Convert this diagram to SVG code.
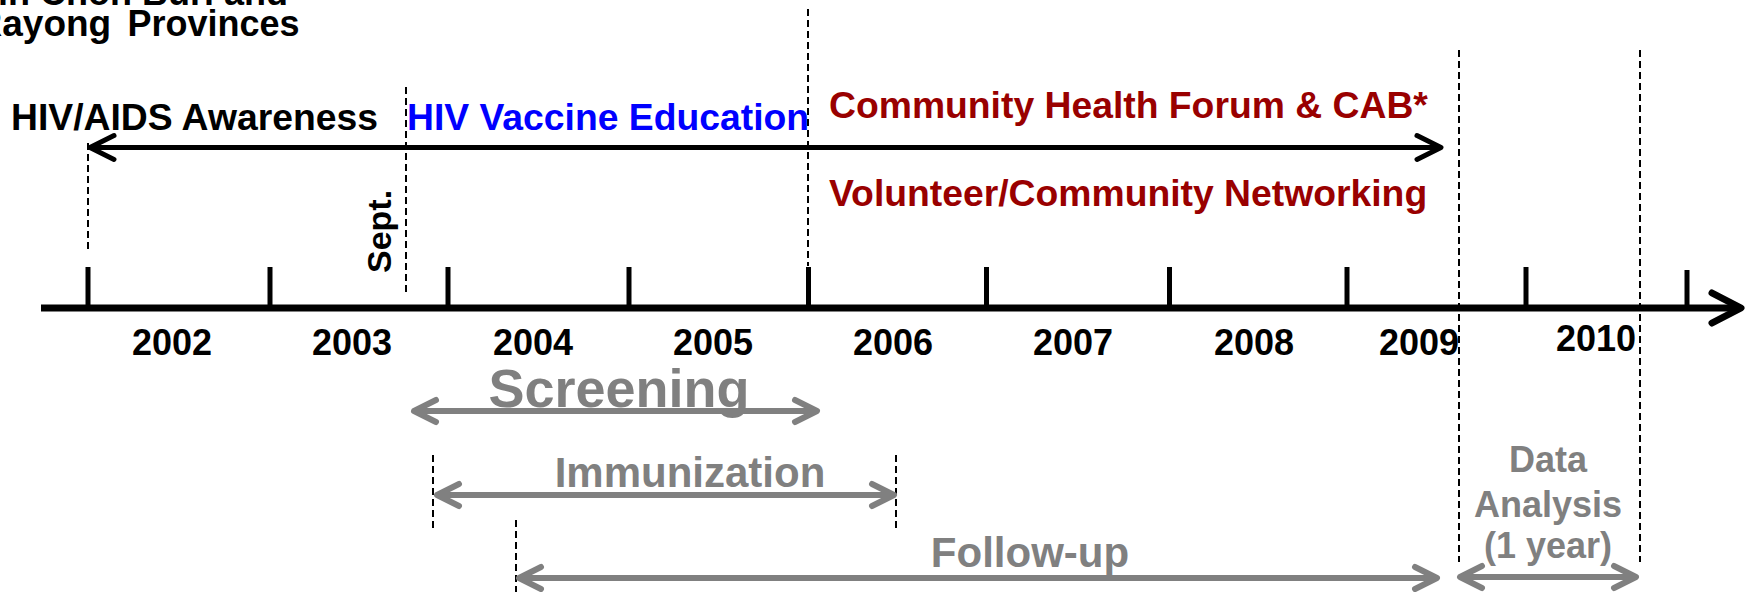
<svg xmlns="http://www.w3.org/2000/svg" width="1745" height="592" viewBox="0 0 1745 592">
<style>
text{font-family:"Liberation Sans",Arial,sans-serif;font-weight:bold}
.blk{fill:#000}
.red{fill:#990000}
.blue{fill:#0000ff}
.gry{fill:#808080}
.lbl{font-size:37.3px}
.yr{font-size:36px;text-anchor:middle}
.dash{stroke:#000;stroke-width:2;stroke-dasharray:7 4;fill:none}
.tick{stroke:#000;stroke-width:5}
.garrow{stroke:#808080;stroke-width:6;fill:none;marker-start:url(#mg);marker-end:url(#mg)}
</style>
<defs>
<marker id="mb" markerUnits="userSpaceOnUse" viewBox="-32 -18 36 36" markerWidth="36" markerHeight="36" refX="0" refY="0" orient="auto-start-reverse" overflow="visible">
<path d="M-24,-12 L0,0 L-24,12" fill="none" stroke="#000" stroke-width="5" stroke-linecap="round" stroke-linejoin="round"/>
</marker>
<marker id="ma" markerUnits="userSpaceOnUse" viewBox="-36 -20 40 40" markerWidth="40" markerHeight="40" refX="0" refY="0" orient="auto" overflow="visible">
<path d="M-29,-15 L0,0 L-29,15" fill="none" stroke="#000" stroke-width="7" stroke-linecap="round" stroke-linejoin="round"/>
</marker>
<marker id="mg" markerUnits="userSpaceOnUse" viewBox="-32 -18 36 36" markerWidth="36" markerHeight="36" refX="0" refY="0" orient="auto-start-reverse" overflow="visible">
<path d="M-22,-11 L0,0 L-22,11" fill="none" stroke="#808080" stroke-width="6" stroke-linecap="round" stroke-linejoin="round"/>
</marker>
</defs>

<g id="title">
<text class="blk" x="288" y="5" font-size="36" text-anchor="end">in Chon Buri and</text>
<text class="blk" y="36" font-size="36"><tspan x="-24.5" font-size="37">Rayong</tspan><tspan x="127.5">Provinces</tspan></text>
</g>

<g id="connectors">
<line x1="41" y1="308" x2="1741" y2="308" stroke="#000" stroke-width="7" marker-end="url(#ma)"/>
<line x1="90" y1="147.5" x2="1441" y2="147.5" stroke="#000" stroke-width="5" marker-start="url(#mb)" marker-end="url(#mb)"/>
<line class="dash" x1="88" y1="143" x2="88" y2="250"/>
<line class="dash" x1="406" y1="87" x2="406" y2="292"/>
<line class="dash" x1="808" y1="9" x2="808" y2="266"/>
<line class="dash" x1="1459" y1="50" x2="1459" y2="562"/>
<line class="dash" x1="1640" y1="50" x2="1640" y2="562"/>
<line class="dash" x1="433" y1="455" x2="433" y2="528"/>
<line class="dash" x1="896" y1="455" x2="896" y2="530"/>
<line class="dash" x1="516" y1="520" x2="516" y2="592"/>
<line class="garrow" x1="414" y1="411" x2="817" y2="411"/>
<line class="garrow" x1="437" y1="495" x2="894" y2="495"/>
<line class="garrow" x1="519" y1="578" x2="1437" y2="578"/>
<line class="garrow" x1="1460" y1="577" x2="1636" y2="577"/>
</g>

<g id="ticks">
<line class="tick" x1="88" y1="267" x2="88" y2="308"/>
<line class="tick" x1="270" y1="267" x2="270" y2="308"/>
<line class="tick" x1="448" y1="267" x2="448" y2="308"/>
<line class="tick" x1="629" y1="267" x2="629" y2="308"/>
<line class="tick" x1="808.5" y1="267" x2="808.5" y2="308"/>
<line class="tick" x1="986.5" y1="267" x2="986.5" y2="308"/>
<line class="tick" x1="1169.5" y1="267" x2="1169.5" y2="308"/>
<line class="tick" x1="1347" y1="267" x2="1347" y2="308"/>
<line class="tick" x1="1526" y1="267" x2="1526" y2="308"/>
<line class="tick" x1="1687" y1="270" x2="1687" y2="311"/>
</g>

<g id="years">
<text class="blk yr" x="172" y="355">2002</text>
<text class="blk yr" x="352" y="355">2003</text>
<text class="blk yr" x="533" y="355">2004</text>
<text class="blk yr" x="713" y="355">2005</text>
<text class="blk yr" x="893" y="355">2006</text>
<text class="blk yr" x="1073" y="355">2007</text>
<text class="blk yr" x="1254" y="355">2008</text>
<text class="blk yr" x="1419" y="355">2009</text>
<text class="blk yr" x="1596" y="351">2010</text>
</g>

<g id="sept">
<text class="blk" font-size="34" transform="translate(391,273) rotate(-90)">Sept.</text>
</g>

<g id="awareness"><text class="blk lbl" x="11" y="130">HIV/AIDS Awareness</text></g>
<g id="vaccine-education"><text class="blue lbl" x="407" y="130">HIV Vaccine Education</text></g>
<g id="community-forum"><text class="red lbl" x="829" y="118">Community Health Forum &amp; CAB*</text></g>
<g id="networking"><text class="red lbl" x="829" y="206">Volunteer/Community Networking</text></g>

<g id="screening"><text class="gry" x="619" y="407" font-size="54" text-anchor="middle">Screening</text></g>
<g id="immunization"><text class="gry" x="690" y="487" font-size="42" text-anchor="middle">Immunization</text></g>
<g id="follow-up"><text class="gry" x="1030" y="567" font-size="42" text-anchor="middle">Follow-up</text></g>
<g id="data-analysis">
<text class="gry" x="1548" y="472" font-size="36" text-anchor="middle">Data</text>
<text class="gry" x="1548" y="517" font-size="36" text-anchor="middle">Analysis</text>
<text class="gry" x="1548" y="558" font-size="36" text-anchor="middle">(1 year)</text>
</g>
</svg>
